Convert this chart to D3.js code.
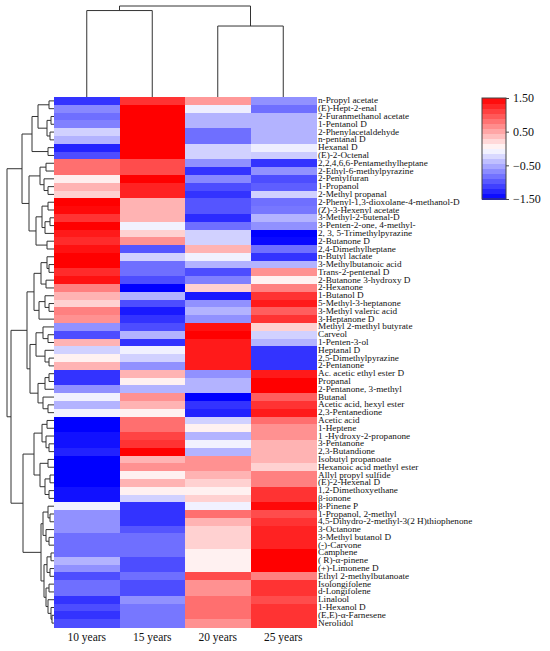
<!DOCTYPE html>
<html>
<head>
<meta charset="utf-8">
<script src="https://cdn.jsdelivr.net/npm/d3@7"></script>
<style>
  body { margin: 0; background: #fff; }
  text { font-family: "Liberation Serif", "Times New Roman", serif; fill: #111; }
</style>
</head>
<body>
<svg id="chart" width="550" height="651"></svg>
<script>
// row labels, top to bottom
const compounds = [
  "n-Propyl acetate", "(E)-Hept-2-enal", "2-Furanmethanol acetate", "1-Pentanol D",
  "2-Phenylacetaldehyde", "n-pentanal D", "Hexanal D", "(E)-2-Octenal",
  "2,2,4,6,6-Pentamethylheptane", "2-Ethyl-6-methylpyrazine", "2-Pentylfuran", "1-Propanol",
  "2-Methyl propanal", "2-Phenyl-1,3-dioxolane-4-methanol-D", "(Z)-3-Hexenyl acetate", "3-Methyl-2-butenal-D",
  "3-Penten-2-one, 4-methyl-", "2, 3, 5-Trimethylpyrazine", "2-Butanone D", "2,4-Dimethylheptane",
  "n-Butyl lactate", "3-Methylbutanoic acid", "Trans-2-pentenal D", "2-Butanone 3-hydroxy D",
  "2-Hexanone", "1-Butanol D", "5-Methyl-3-heptanone", "3-Methyl valeric acid",
  "3-Heptanone D", "Methyl 2-methyl butyrate", "Carveol", "1-Penten-3-ol",
  "Heptanal D", "2,5-Dimethylpyrazine", "2-Pentanone", "Ac. acetic ethyl ester D",
  "Propanal", "2-Pentanone, 3-methyl", "Butanal", "Acetic acid, hexyl ester",
  "2,3-Pentanedione", "Acetic acid", "1-Heptene", "1 -Hydroxy-2-propanone",
  "3-Pentanone", "2,3-Butandione", "Isobutyl propanoate", "Hexanoic acid methyl ester",
  "Allyl propyl sulfide", "(E)-2-Hexenal D", "1,2-Dimethoxyethane", "β-ionone",
  "β-Pinene P", "1-Propanol, 2-methyl", "4,5-Dihydro-2-methyl-3(2 H)thiophenone", "3-Octanone",
  "3-Methyl butanol D", "(-)-Carvone", "Camphene", "( R)-α-pinene",
  "(+)-Limonene D", "Ethyl 2-methylbutanoate", "Isolongifolene", "d-Longifolene",
  "Linalool", "1-Hexanol D", "(E,E)-α-Farnesene", "Nerolidol"
];

const years = ["10 years", "15 years", "20 years", "25 years"];

// scaled values per column, same order as compounds
const y10 = [
  -1.2, -0.7, -0.85, -0.75, -0.27, -0.45, -1.3, -1.05,
  0.85, 0.85, 0.1, 0.45, 0.27, 1.5, 1.45, 1.2,
  1.5, 1.35, 1.25, 1.4, 1.5, 1.5, 1.25, 1.4,
  0.75, 0.45, 0.27, 0.75, 0.65, -0.65, -1.05, 0.45,
  -0.27, 0.08, 0.45, -1.2, -1.2, -0.65, -0.08, -0.45,
  -0.08, -1.5, -1.5, -1.4, -1.4, -1.3, -1.5, -1.5,
  -1.5, -1.5, -1.4, -1.4, -0.08, -0.65, -0.65, -0.65,
  -0.85, -0.85, -0.85, -0.45, -0.65, -1.05, -0.85, -0.85,
  -1.2, -1.05, -1.2, -1.05
];
const y15 = [
  1.2, 1.5, 1.5, 1.5, 1.5, 1.5, 1.5, 1.5,
  1.05, 1.05, 1.5, 1.3, 1.3, 0.45, 0.45, 0.45,
  -0.08, 0.27, 0.65, -1.0, -0.27, -0.85, -0.85, -1.05,
  -1.5, -0.45, -1.05, -1.35, -1.2, -1.05, -0.45, -1.2,
  -0.08, -0.27, -0.65, 0.45, 0.08, -0.45, 0.65, 0.45,
  0.08, 0.85, 0.85, 1.1, 1.2, 1.5, 0.45, 0.65,
  0.08, 0.45, 0.08, -0.27, -1.2, -1.2, -1.2, -1.0,
  -0.85, -0.85, -0.85, -1.05, -1.05, -0.85, -1.05, -1.05,
  -0.65, -0.8, -0.8, -0.8
];
const y20 = [
  0.6, -0.1, -0.45, -0.45, -0.85, -0.85, -0.27, -0.27,
  -0.65, -1.2, -0.7, -1.05, -1.2, -1.0, -1.0, -1.25,
  -0.85, -0.27, -0.27, 0.45, -0.08, -0.45, -1.05, -0.75,
  0.27, -1.35, -0.65, -0.45, -0.65, 1.4, 1.5, 1.35,
  1.35, 1.35, 1.35, -0.65, -0.45, -0.45, -1.5, -1.2,
  -1.3, -0.27, 0.08, -0.45, -0.08, -0.45, 0.65, 0.65,
  0.45, 0.27, 0.08, 0.27, -0.08, 0.85, 0.45, 0.27,
  0.27, 0.27, 0.08, 0.08, 0.08, 1.05, 0.65, 0.65,
  0.85, 0.85, 0.85, 0.65
];
const y25 = [
  -0.65, -0.85, -0.45, -0.45, -0.45, -0.45, -0.1, -0.3,
  -1.2, -0.65, -1.05, -0.95, -0.27, -0.85, -0.8, -0.45,
  -0.65, -1.5, -1.45, -0.85, -1.2, -0.45, 0.65, 0.08,
  0.75, 1.2, 1.35, 0.95, 1.2, 0.27, -0.27, -0.45,
  -1.2, -1.2, -1.2, 1.35, 1.5, 1.5, 0.95, 1.2,
  1.35, 0.85, 0.65, 0.65, 0.45, 0.45, 0.45, 0.27,
  0.75, 0.75, 1.2, 1.2, 1.45, 1.05, 1.2, 1.3,
  1.3, 1.3, 1.5, 1.5, 1.5, 0.75, 1.2, 1.2,
  1.05, 1.2, 1.2, 1.2
];

const legendTicks = [1.5, 0.5, -0.5, -1.5];

// row clustering: [merge height, left, right], leaves are row indices
const clusterA = [22, [16, [5, 0, 1], [7, [3, 2, 3], [4, 4, 5]]], [6, 6, 7]];
const clusterB = [14, [8, 8, 9], [10, 10, [6, 11, 12]]];
const clusterC = [18, [12, [6, 13, 14], [9, [4, 15, 16], 17]], [7, 18, 19]];
const clusterD = [20, [13, [7, 20, [5, 21, 22]], [8, 23, 24]], [15, [9, 25, [5, 26, 27]], 28]];
const clusterE = [18, [11, 29, [6, 30, 31]], [9, 32, [5, 33, 34]]];
const clusterF = [16, [9, [5, 35, 36], 37], [11, 38, [6, 39, 40]]];
const clusterG = [20, [12, [7, 41, 42], [8, 43, [5, 44, 45]]], [14, [6, 46, 47], [9, [4, 48, 49], [5, 50, 51]]]];
const clusterH = [13, [11, [6, 52, [4, 53, 54]], [8, 55, [5, 56, 57]]],
                      [10, [7, [3, 58, 59], [4, 60, 61]], [8, [5, 62, 63], [6, 64, [3, 65, [2, 66, 67]]]]]];
const rowTree = [47,
  [32, clusterA, [25, clusterB, clusterC]],
  [43, [27, clusterD, [24, clusterE, clusterF]], [31, clusterG, clusterH]]
];
// column clustering
const colTree = [1.0, [0.95, 0, 1], [0.78, 2, 3]];

const hm = { left: 54, right: 316, top: 97, bottom: 627 };
const svg = d3.select("#chart");

const x = d3.scaleBand().domain(years).range([hm.left, hm.right]);
const y = d3.scaleBand().domain(d3.range(compounds.length)).range([hm.top, hm.bottom]);
const color = d3.scaleLinear()
  .domain([-1.5, 0, 1.5])
  .range(["#0000ff", "#ffffff", "#ff0000"])
  .clamp(true);

// heatmap cells
const series = [y10, y15, y20, y25];
const cells = [];
compounds.forEach((name, i) => {
  series.forEach((s, j) => cells.push({ row: i, col: years[j], v: s[i] }));
});

svg.append("g")
  .attr("shape-rendering", "crispEdges")
  .selectAll("rect")
  .data(cells)
  .join("rect")
  .attr("x", d => x(d.col))
  .attr("y", d => y(d.row))
  .attr("width", x.bandwidth() + 0.5)
  .attr("height", y.bandwidth() + 0.5)
  .attr("fill", d => color(d.v));

// row labels (the original figure is stretched sideways, so the text is too)
svg.append("g")
  .selectAll("text")
  .data(compounds)
  .join("text")
  .attr("transform", (d, i) => `translate(${hm.right + 2},${y(i) + y.bandwidth() / 2}) scale(1.28,1)`)
  .attr("dy", "0.35em")
  .attr("font-size", "7.2px")
  .text(d => d);

// column labels
const xAxis = svg.append("g")
  .attr("transform", `translate(0,${hm.bottom})`)
  .call(d3.axisBottom(x).tickSize(0).tickPadding(6));
xAxis.select(".domain").remove();
xAxis.selectAll("text")
  .attr("font-family", "Liberation Serif, serif")
  .attr("font-size", "11.5px")
  .attr("fill", "#111");

// dendrogram helper
function dendroPath(tree, leafPos, heightPos, horizontal) {
  const root = d3.hierarchy(tree, d => Array.isArray(d) ? d.slice(1) : null);
  root.eachAfter(n => {
    if (n.children) {
      n.h = n.data[0];
      n.p = d3.mean(n.children, c => c.p);
    } else {
      n.h = 0;
      n.p = leafPos(n.data);
    }
  });
  const p = d3.path();
  root.each(n => {
    if (!n.children) return;
    const [a, b] = n.children;
    if (horizontal) {
      p.moveTo(heightPos(a.h), a.p);
      p.lineTo(heightPos(n.h), a.p);
      p.lineTo(heightPos(n.h), b.p);
      p.lineTo(heightPos(b.h), b.p);
    } else {
      p.moveTo(a.p, heightPos(a.h));
      p.lineTo(a.p, heightPos(n.h));
      p.lineTo(b.p, heightPos(n.h));
      p.lineTo(b.p, heightPos(b.h));
    }
  });
  return p.toString();
}

const rowHeight = d3.scaleLinear().domain([0, 47]).range([hm.left, 7]);
svg.append("path")
  .attr("d", dendroPath(rowTree, i => y(i) + y.bandwidth() / 2, rowHeight, true))
  .attr("fill", "none")
  .attr("stroke", "#333")
  .attr("stroke-width", 1);

const colHeight = d3.scaleLinear().domain([0, 1]).range([hm.top, 6]);
svg.append("path")
  .attr("d", dendroPath(colTree, i => x(years[i]) + x.bandwidth() / 2, colHeight, false))
  .attr("fill", "none")
  .attr("stroke", "#333")
  .attr("stroke-width", 1);

// colour legend
const lg = { x: 482, w: 24, top: 98, bottom: 199 };
const ly = d3.scaleLinear().domain([-1.5, 1.5]).range([lg.bottom, lg.top]);
const steps = 20;
const stepSize = 3 / steps;
const bands = d3.range(steps).map(k => -1.5 + k * stepSize);
svg.append("g")
  .attr("shape-rendering", "crispEdges")
  .selectAll("rect")
  .data(bands)
  .join("rect")
  .attr("x", lg.x)
  .attr("y", d => ly(d + stepSize))
  .attr("width", lg.w)
  .attr("height", d => ly(d) - ly(d + stepSize) + 0.5)
  .attr("fill", d => color(d + stepSize / 2));
svg.append("rect")
  .attr("x", lg.x)
  .attr("y", lg.top)
  .attr("width", lg.w)
  .attr("height", lg.bottom - lg.top)
  .attr("fill", "none")
  .attr("stroke", "#444")
  .attr("stroke-width", 1);

const lAxis = svg.append("g")
  .attr("transform", `translate(${lg.x + lg.w},0)`)
  .call(d3.axisRight(ly).tickValues(legendTicks).tickSize(3).tickPadding(4)
    .tickFormat(d3.format(".2f")));
lAxis.select(".domain").remove();
lAxis.selectAll("line").attr("stroke", "#444");
lAxis.selectAll("text")
  .attr("font-family", "Liberation Serif, serif")
  .attr("font-size", "12px")
  .attr("fill", "#222");
</script>
</body>
</html>
